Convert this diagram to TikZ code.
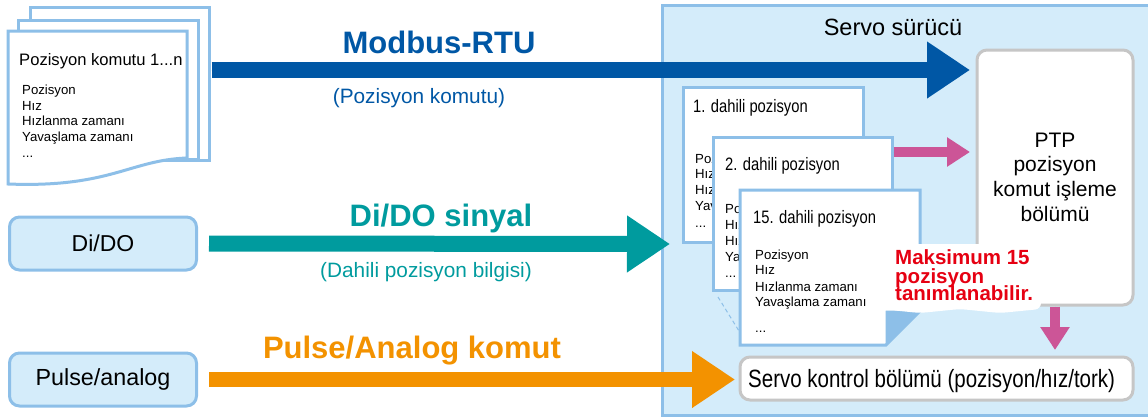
\documentclass[tikz,border=0pt]{standalone}
\usepackage{fontspec}
\setmainfont{Liberation Sans}
\newfontfamily\condfont[FakeStretch=0.82]{Liberation Sans}
\usetikzlibrary{arrows.meta}
\definecolor{lbfill}{HTML}{D4ECFA}
\definecolor{bordb}{HTML}{8DBFE8}
\definecolor{blueA}{HTML}{0057A5}
\definecolor{tealA}{HTML}{009B9E}
\definecolor{orangeA}{HTML}{F39200}
\definecolor{pinkA}{HTML}{CC5597}
\definecolor{redA}{HTML}{E60012}
\definecolor{grayb}{HTML}{C6C6C6}
\tikzset{
  lbbox/.style={draw=bordb, fill=lbfill, line width=3pt, rounded corners=10pt},
  pagebox/.style={draw=bordb, fill=white, line width=3pt},
  graybox/.style={draw=grayb, fill=white, line width=3pt, rounded corners=10pt},
  txt/.style={inner sep=0pt, anchor=base west},
  ctxt/.style={inner sep=0pt, anchor=base},
  small/.style={txt, font=\fontsize{13.2}{15}\selectfont},
  dtitle/.style={txt, font=\condfont\fontsize{18}{20}\selectfont},
  bigbold/.style={ctxt, font=\bfseries\fontsize{31}{36}\selectfont},
  sublabel/.style={ctxt, font=\fontsize{20.8}{24}\selectfont},
  fatarrow/.style={line width=16pt, -{Triangle[length=43pt,width=54pt]}},
  pinkarrow/.style={draw=pinkA, line width=10pt, -{Triangle[length=23pt,width=28pt]}},
  redtxt/.style={txt, text=redA, font=\bfseries\fontsize{20.5}{18}\selectfont},
}
\begin{document}
\begin{tikzpicture}[x=1pt,y=-1pt]
\useasboundingbox (0,0) rectangle (1148,418);
\clip (0,0) rectangle (1148,418);

% servo driver area
\path[draw=bordb, fill=lbfill, line width=3pt] (662,5) rectangle (1160,415);
\node[ctxt, font=\fontsize{23.5}{28}\selectfont] (servolbl) at (893,35) {Servo sürücü};

% left document stack
\node[pagebox, minimum width=179pt, minimum height=153pt, inner sep=0pt] (p3) at (119.5,83.5) {};
\node[pagebox, minimum width=180pt, minimum height=139pt, inner sep=0pt] (p2) at (108,89.5) {};
\path[pagebox] (8,31) -- (187,31) -- (187,158) .. controls (130,160) and (110,188) .. (8,184) -- cycle;
\node[txt, font=\fontsize{16.6}{19}\selectfont] (cmdtitle) at (19,65) {Pozisyon komutu 1...n};
\node[small] (l1) at (22,94) {Pozisyon};
\node[small] (l2) at (22,110) {Hız};
\node[small] (l3) at (22,125.5) {Hızlanma zamanı};
\node[small] (l4) at (22,141) {Yavaşlama zamanı};
\node[small] (l5) at (22,157) {...};

% left boxes
\node[lbbox, minimum width=187pt, minimum height=53pt, inner sep=0pt,
      font=\fontsize{23}{26}\selectfont] (dido) at (103,243.5) {Di/DO};
\node[lbbox, minimum width=187pt, minimum height=53pt, inner sep=0pt,
      font=\fontsize{23.3}{26}\selectfont] (pulse) at (103,379.5) {Pulse/analog};

% PTP and servo control boxes
\node[graybox, minimum width=156pt, minimum height=255pt, inner sep=0pt] (ptp) at (1055,177.5) {};
\node[ctxt, font=\fontsize{21}{25}\selectfont] (ptp1) at (1055,147) {PTP};
\node[ctxt, font=\fontsize{21}{25}\selectfont] (ptp2) at (1055,171) {pozisyon};
\node[ctxt, font=\fontsize{21}{25}\selectfont] (ptp3) at (1055,196) {komut işleme};
\node[ctxt, font=\fontsize{21}{25}\selectfont] (ptp4) at (1055,221) {bölümü};

\node[graybox, minimum width=393pt, minimum height=43pt, inner sep=0pt] (servo) at (936.5,378.5) {};
\node[txt, font=\condfont\fontsize{25}{28}\selectfont] (servotxt) at (748,387) {Servo kontrol bölümü (pozisyon/hız/tork)};

% internal position pages
\node[pagebox, minimum width=180pt, minimum height=155pt, inner sep=0pt] (d1) at (773,164.5) {};
\node[dtitle] (d1t) at (693,112) {1. dahili pozisyon};
\node[small] (d1a) at (695,163) {Pozisyon};
\node[small] (d1b) at (695,178.5) {Hız};
\node[small] (d1c) at (695,194) {Hızlanma zamanı};
\node[small] (d1d) at (695,210) {Yavaşlama zamanı};
\node[small] (d1e) at (695,227) {...};

\node[pagebox, minimum width=179pt, minimum height=153pt, inner sep=0pt] (d2) at (802.5,213.5) {};
\node[dtitle] (d2t) at (725,170) {2. dahili pozisyon};
\node[small] (d2a) at (725,213) {Pozisyon};
\node[small] (d2b) at (725,229) {Hız};
\node[small] (d2c) at (725,245) {Hızlanma zamanı};
\node[small] (d2d) at (725,261) {Yavaşlama zamanı};
\node[small] (d2e) at (725,277) {...};

\coordinate (dsA) at (718,297);
\coordinate (dsB) at (739,331);
\draw[bordb, line width=1pt, dash pattern=on 4pt off 3pt] (dsA) -- (dsB);

\path[pagebox] (740,190) -- (920,190) -- (920,311) -- (886,345) -- (740,345) -- cycle;
\path[fill=bordb, draw=bordb, line width=1pt, line join=round] (886,311) -- (920,311) -- (886,345) -- cycle;
\node[dtitle] (d15t) at (753,223) {15. dahili pozisyon};
\node[small] (d15a) at (755,259) {Pozisyon};
\node[small] (d15b) at (755,274.5) {Hız};
\node[small] (d15c) at (755,291) {Hızlanma zamanı};
\node[small] (d15d) at (755,306) {Yavaşlama zamanı};
\node[small] (d15e) at (755,332) {...};

% fat arrows
\coordinate (mtip) at (970,70);
\coordinate (ttip) at (670,244);
\coordinate (otip) at (735,379.5);
\draw[fatarrow, draw=blueA, fill=blueA] ([xshift=1pt]p3.east |- mtip) -- (mtip);
\draw[fatarrow, draw=tealA, fill=tealA] ([xshift=11pt]dido.east) -- (ttip);
\draw[fatarrow, draw=orangeA, fill=orangeA, line width=15pt] ([xshift=11pt]pulse.east) -- (otip);

% pink arrows
\coordinate (phtip) at (970,152);
\coordinate (pvtip) at (1055,350);
\draw[pinkarrow, fill=pinkA] (d2.east |- phtip) -- (phtip);
\draw[pinkarrow, fill=pinkA] (ptp.south) -- (pvtip);

% arrow labels
\node[bigbold, text=blueA] (modbus) at (439,53) {Modbus-RTU};
\node[sublabel, text=blueA] (modsub) at (419,103) {(Pozisyon komutu)};
\node[bigbold, text=tealA] (didolbl) at (441,226) {Di/DO sinyal};
\node[sublabel, text=tealA] (didosub) at (426,277) {(Dahili pozisyon bilgisi)};
\node[bigbold, text=orangeA] (pulselbl) at (412,358) {Pulse/Analog komut};

% red note with white halo
\fill[white, rounded corners=6pt] (890,244) -- (1037,244) -- (1037,270) -- (1041,281) -- (1041,309)
   -- (1000,313) -- (960,309) -- (920,313) -- (890,310) -- cycle;
\node[redtxt] (r1) at (895,264) {Maksimum 15};
\node[redtxt] (r2) at (895,283) {pozisyon};
\node[redtxt] (r3) at (895,300) {tanımlanabilir.};
\end{tikzpicture}
\end{document}
